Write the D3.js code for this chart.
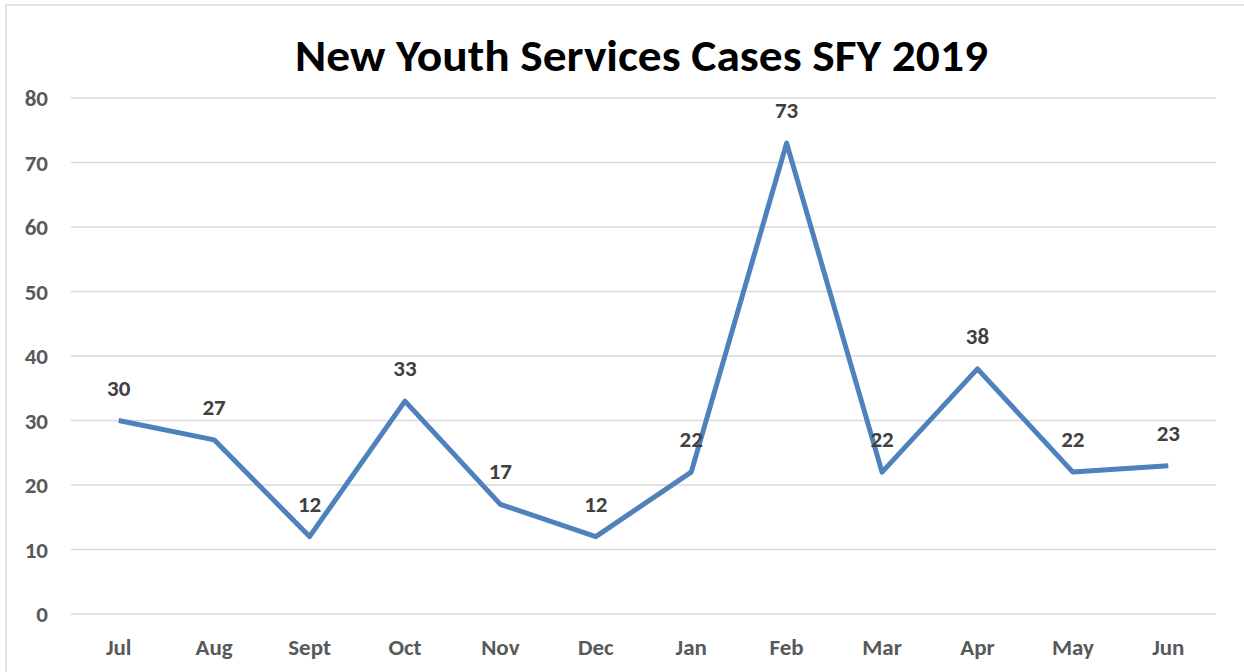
<!DOCTYPE html>
<html><head><meta charset="utf-8">
<script src="https://cdn.jsdelivr.net/npm/d3@7"></script>
<style>body{margin:0;background:#fff;} svg{display:block;}</style>
</head><body>
<svg id="c" width="1244" height="672"></svg>
<script>
const months = ["Jul","Aug","Sept","Oct","Nov","Dec","Jan","Feb","Mar","Apr","May","Jun"];
const cases = [30,27,12,33,17,12,22,73,22,38,22,23];
const yTicks = [0,10,20,30,40,50,60,70,80];
const title = "New Youth Services Cases SFY 2019";

const svg = d3.select("#c");
const font = "Carlito, 'Open Sans', 'Liberation Sans', sans-serif";
svg.append("rect").attr("x",6).attr("y",5).attr("width",1244).attr("height",700)
  .attr("fill","#fff").attr("stroke","#d9d9d9").attr("stroke-width",1.5);

const x = d3.scaleBand().domain(months).range([71,1216]);
const y = d3.scaleLinear().domain([0,80]).range([614,98]);

svg.append("g").selectAll("line").data(yTicks).join("line")
  .attr("x1",71).attr("x2",1216).attr("y1",d=>y(d)).attr("y2",d=>y(d))
  .attr("stroke","#d9d9d9").attr("stroke-width",1.5);

const yAxis = d3.axisLeft(y).tickValues(yTicks).tickSize(0).tickPadding(0);
const gy = svg.append("g").attr("transform","translate(48,0)").call(yAxis);
gy.select(".domain").remove();
gy.selectAll("text").attr("font-family",font).attr("font-weight","bold").attr("font-size",23).attr("fill","#595959").attr("text-anchor","end").attr("dy","0.34em");

const xAxis = d3.axisBottom(x).tickSize(0).tickPadding(0);
const gx = svg.append("g").attr("transform","translate(0,655)").call(xAxis);
gx.select(".domain").remove();
gx.selectAll("text").attr("font-family",font).attr("font-weight","bold").attr("font-size",23).attr("fill","#595959").attr("dy","0");

const line = d3.line().x((d,i)=>x(months[i])+x.bandwidth()/2).y(d=>y(d));
svg.append("path").datum(cases).attr("d",line).attr("fill","none")
  .attr("stroke","#4f81bd").attr("stroke-width",5).attr("stroke-linejoin","round");

svg.append("g").selectAll("text").data(cases).join("text")
  .attr("x",(d,i)=>x(months[i])+x.bandwidth()/2).attr("y",d=>y(d)-25)
  .attr("text-anchor","middle").attr("font-family",font).attr("font-weight","bold")
  .attr("font-size",23).attr("fill","#404040").text(d=>d);

svg.append("text").attr("x",641.5).attr("y",71).attr("text-anchor","middle")
  .attr("font-family",font).attr("font-weight","bold").attr("font-size",45)
  .attr("textLength",693).attr("lengthAdjust","spacingAndGlyphs")
  .attr("fill","#000").text(title);
</script>
</body></html>
